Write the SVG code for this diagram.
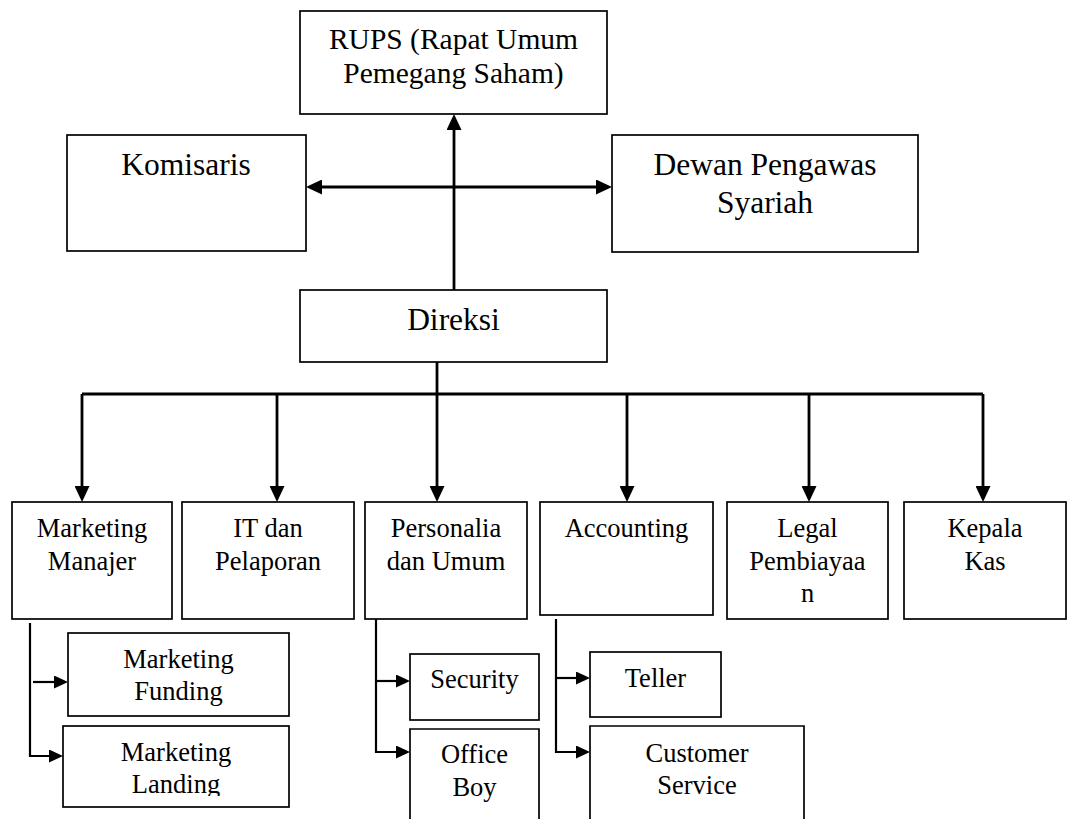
<svg xmlns="http://www.w3.org/2000/svg" width="1073" height="819" viewBox="0 0 1073 819">
<style>
.box{fill:#fff;stroke:#000;stroke-width:1.7}
.t{font-family:"Liberation Serif","Times New Roman",serif;fill:#000;text-anchor:middle}
.big{font-size:31.5px}
.mid{font-size:29.5px}
.sm{font-size:26.5px}
.c{fill:none;stroke:#000;stroke-width:2.8}
.cs{fill:none;stroke:#000;stroke-width:2.2}
</style>
<defs>
<marker id="ah" viewBox="0 0 16 15" refX="0" refY="7.5" markerWidth="16" markerHeight="15" markerUnits="userSpaceOnUse" orient="auto-start-reverse">
<path d="M0,0 L16,7.5 L0,15 Z" fill="#000"/>
</marker>
<marker id="as" viewBox="0 0 14 13" refX="0" refY="6.5" markerWidth="14" markerHeight="13" markerUnits="userSpaceOnUse" orient="auto">
<path d="M0,0 L14,6.5 L0,13 Z" fill="#000"/>
</marker>
<clipPath id="clipL"><rect x="63" y="726" width="226" height="70"/></clipPath>
</defs>
<g id="connectors">
<path class="c" d="M454,290 V130" marker-end="url(#ah)"/>
<path class="c" d="M322,187 H596" marker-start="url(#ah)" marker-end="url(#ah)"/>
<path class="c" d="M437,362 V394"/>
<path class="c" d="M82,394 H983"/>
<path class="c" d="M82,394 V486" marker-end="url(#ah)"/>
<path class="c" d="M277,394 V486" marker-end="url(#ah)"/>
<path class="c" d="M437,394 V486" marker-end="url(#ah)"/>
<path class="c" d="M627,394 V486" marker-end="url(#ah)"/>
<path class="c" d="M809,394 V486" marker-end="url(#ah)"/>
<path class="c" d="M983,394 V486" marker-end="url(#ah)"/>
<path class="cs" d="M30,623 V756 H49" marker-end="url(#as)"/>
<path class="cs" d="M33,682 H54" marker-end="url(#as)"/>
<path class="cs" d="M376,619 V752 H396" marker-end="url(#as)"/>
<path class="cs" d="M376,681 H396" marker-end="url(#as)"/>
<path class="cs" d="M556,619 V752 H576" marker-end="url(#as)"/>
<path class="cs" d="M556,678 H576" marker-end="url(#as)"/>
</g>
<g id="rups">
<rect class="box" x="300" y="11" width="307" height="103"/>
<text class="t mid" x="453.5" y="49">RUPS (Rapat Umum</text>
<text class="t mid" x="453.5" y="83">Pemegang Saham)</text>
</g>
<g id="komisaris">
<rect class="box" x="67" y="135" width="239" height="116"/>
<text class="t big" x="186" y="175">Komisaris</text>
</g>
<g id="dewan">
<rect class="box" x="612" y="135" width="306" height="117"/>
<text class="t big" x="765" y="175">Dewan Pengawas</text>
<text class="t big" x="765" y="213">Syariah</text>
</g>
<g id="direksi">
<rect class="box" x="300" y="290" width="307" height="72"/>
<text class="t big" x="453.5" y="330">Direksi</text>
</g>
<g id="marketing-manajer">
<rect class="box" x="12" y="502" width="160" height="117"/>
<text class="t sm" x="92" y="537">Marketing</text>
<text class="t sm" x="92" y="570">Manajer</text>
</g>
<g id="it">
<rect class="box" x="182" y="502" width="172" height="117"/>
<text class="t sm" x="268" y="537">IT dan</text>
<text class="t sm" x="268" y="570">Pelaporan</text>
</g>
<g id="personalia">
<rect class="box" x="365" y="502" width="162" height="117"/>
<text class="t sm" x="446" y="537">Personalia</text>
<text class="t sm" x="446" y="570">dan Umum</text>
</g>
<g id="accounting">
<rect class="box" x="540" y="502" width="173" height="113"/>
<text class="t sm" x="626.5" y="537">Accounting</text>
</g>
<g id="legal">
<rect class="box" x="727" y="502" width="161" height="117"/>
<text class="t sm" x="807.5" y="537">Legal</text>
<text class="t sm" x="807.5" y="570">Pembiayaa</text>
<text class="t sm" x="807.5" y="602">n</text>
</g>
<g id="kepala-kas">
<rect class="box" x="904" y="502" width="162" height="117"/>
<text class="t sm" x="985" y="537">Kepala</text>
<text class="t sm" x="985" y="570">Kas</text>
</g>
<g id="marketing-funding">
<rect class="box" x="68" y="633" width="221" height="83"/>
<text class="t sm" x="178.5" y="668">Marketing</text>
<text class="t sm" x="178.5" y="700">Funding</text>
</g>
<g id="marketing-landing">
<rect class="box" x="63" y="726" width="226" height="81"/>
<g clip-path="url(#clipL)">
<text class="t sm" x="176" y="761">Marketing</text>
<text class="t sm" x="176" y="793">Landing</text>
</g>
</g>
<g id="security">
<rect class="box" x="410" y="654" width="129" height="66"/>
<text class="t sm" x="474.5" y="688">Security</text>
</g>
<g id="office-boy">
<path class="box" d="M410,830 V729 H539 V830"/>
<text class="t sm" x="474.5" y="763">Office</text>
<text class="t sm" x="474.5" y="796">Boy</text>
</g>
<g id="teller">
<rect class="box" x="590" y="652" width="131" height="65"/>
<text class="t sm" x="655.5" y="687">Teller</text>
</g>
<g id="customer-service">
<path class="box" d="M590,830 V726 H804 V830"/>
<text class="t sm" x="697" y="762">Customer</text>
<text class="t sm" x="697" y="794">Service</text>
</g>
</svg>
